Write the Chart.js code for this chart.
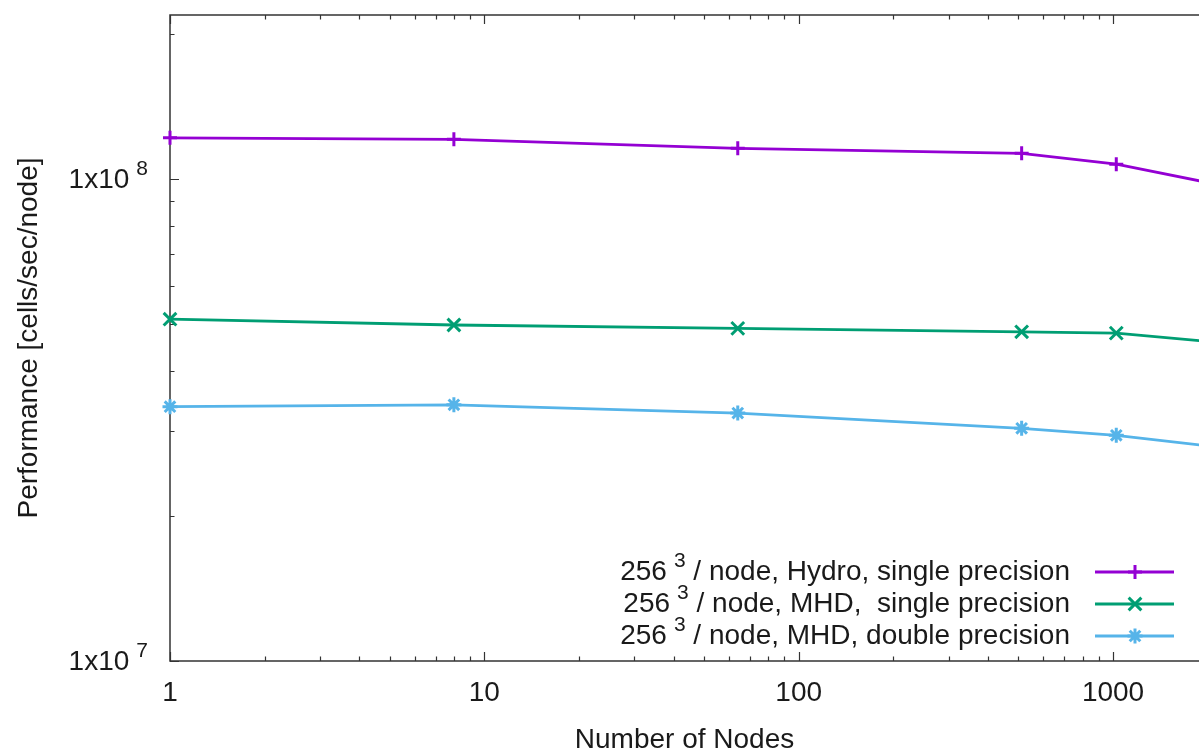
<!DOCTYPE html>
<html>
<head>
<meta charset="utf-8">
<script src="https://cdn.jsdelivr.net/npm/chart.js@4/dist/chart.umd.min.js"></script>
<style>
    html, body { margin: 0; padding: 0; background: #fff; }
    #wrap { width: 1199px; height: 754px; position: relative; }
</style>
</head>
<body>
<div id="wrap"><canvas id="perf-chart"></canvas></div>
<script>
// --- Données ---
const nodes = [1, 8, 64, 512, 1024, 2048];
const hydroSingle = [1.218e8, 1.209e8, 1.158e8, 1.131e8, 1.074e8, 9.81e7];
const mhdSingle = [5.12e7, 4.98e7, 4.90e7, 4.82e7, 4.79e7, 4.60e7];
const mhdDouble = [3.37e7, 3.40e7, 3.27e7, 3.04e7, 2.94e7, 2.79e7];

const seriesNames = [
    '256^{3} / node, Hydro, single precision',
    ' 256^{3} / node, MHD,  single precision',
    '256^{3} / node, MHD, double precision'
];
const seriesColors = ['#9400d3', '#009e73', '#56b4e9'];
const seriesMarkers = ['cross', 'crossRot', 'star'];
const markerSizes = [7, 9, 7.5];

const xTickValues = [1, 10, 100, 1000];
const xTickLabels = ['1', '10', '100', '1000'];
const yTickValues = [1e7, 1e8];
const yTickLabels = ['1x10^{7}', '1x10^{8}'];

const xTitle = 'Number of Nodes';
const yTitle = 'Performance [cells/sec/node]';

const FONT = '"Liberation Sans", Arial, sans-serif';
const FONT_SIZE = 28;
const TEXT_COLOR = '#1a1a1a';
const AXIS_COLOR = '#333';

// --- Texte "enhanced" façon gnuplot (exposant ^{...}) ---
function splitSup(str) {
    const parts = [];
    const re = /\^\{([^}]*)\}/g;
    let last = 0, m;
    while ((m = re.exec(str)) !== null) {
        if (m.index > last) parts.push({ t: str.slice(last, m.index), sup: false });
        parts.push({ t: m[1], sup: true });
        last = re.lastIndex;
    }
    if (last < str.length) parts.push({ t: str.slice(last), sup: false });
    return parts;
}

function measureRich(ctx, str, size) {
    let w = 0;
    splitSup(str).forEach(p => {
        ctx.font = (p.sup ? size * 0.75 : size) + 'px ' + FONT;
        w += ctx.measureText(p.t).width + (p.sup ? 7 : 0);
    });
    return w;
}

function drawRich(ctx, str, xRight, yMid, size) {
    let x = xRight - measureRich(ctx, str, size);
    ctx.textBaseline = 'middle';
    ctx.textAlign = 'left';
    ctx.fillStyle = TEXT_COLOR;
    splitSup(str).forEach(p => {
        if (p.sup) {
            x += 7;
            ctx.font = (size * 0.75) + 'px ' + FONT;
            ctx.fillText(p.t, x, yMid - size * 0.38);
        } else {
            ctx.font = size + 'px ' + FONT;
            ctx.fillText(p.t, x, yMid);
        }
        x += ctx.measureText(p.t).width;
    });
}

// même forme que les pointStyle de Chart.js (cross / crossRot / star)
function drawMarker(ctx, style, x, y, r) {
    ctx.beginPath();
    if (style === 'cross' || style === 'star') {
        ctx.moveTo(x - r, y); ctx.lineTo(x + r, y);
        ctx.moveTo(x, y - r); ctx.lineTo(x, y + r);
    }
    if (style === 'crossRot' || style === 'star') {
        const d = r * Math.SQRT1_2;
        ctx.moveTo(x - d, y - d); ctx.lineTo(x + d, y + d);
        ctx.moveTo(x - d, y + d); ctx.lineTo(x + d, y - d);
    }
    ctx.stroke();
}

// --- Cadre, graduations et légende dessinés à la gnuplot ---
const gnuplotFrame = {
    id: 'gnuplotFrame',
    beforeDatasetsDraw(chart) {
        const { ctx, chartArea } = chart;
        const xs = chart.scales.x, ys = chart.scales.y;
        const L = chartArea.left, R = chartArea.right, T = chartArea.top, B = chartArea.bottom;

        ctx.save();
        ctx.strokeStyle = AXIS_COLOR;
        ctx.lineWidth = 1.5;
        ctx.beginPath();
        ctx.moveTo(R + 2, T); ctx.lineTo(L, T); ctx.lineTo(L, B); ctx.lineTo(R + 2, B);
        ctx.stroke();

        // graduations x (bas et haut, vers l'intérieur)
        ctx.lineWidth = 1.2;
        ctx.beginPath();
        for (let dec = 1; dec <= xs.max; dec *= 10) {
            for (let k = 1; k <= 9; k++) {
                const v = dec * k;
                if (v < xs.min || v > xs.max) continue;
                const px = Math.round(xs.getPixelForValue(v)) + 0.5;
                const len = k === 1 ? 9 : 4.5;
                ctx.moveTo(px, B); ctx.lineTo(px, B - len);
                ctx.moveTo(px, T); ctx.lineTo(px, T + len);
            }
        }
        // graduations y
        for (let dec = 1e7; dec <= ys.max; dec *= 10) {
            for (let k = 1; k <= 9; k++) {
                const v = dec * k;
                if (v < ys.min || v > ys.max) continue;
                const py = Math.round(ys.getPixelForValue(v)) + 0.5;
                const len = k === 1 ? 9 : 4.5;
                ctx.moveTo(L, py); ctx.lineTo(L + len, py);
            }
        }
        ctx.stroke();

        // étiquettes des axes
        ctx.fillStyle = TEXT_COLOR;
        ctx.font = FONT_SIZE + 'px ' + FONT;
        ctx.textAlign = 'center';
        ctx.textBaseline = 'middle';
        xTickValues.forEach((v, i) => {
            ctx.fillText(xTickLabels[i], xs.getPixelForValue(v), B + 32);
        });
        yTickValues.forEach((v, i) => {
            drawRich(ctx, yTickLabels[i], L - 22, ys.getPixelForValue(v) + 1, FONT_SIZE);
        });

        ctx.font = FONT_SIZE + 'px ' + FONT;
        ctx.textAlign = 'center';
        ctx.fillText(xTitle, (L + R) / 2, 740);
        ctx.save();
        ctx.translate(29, (T + B) / 2);
        ctx.rotate(-Math.PI / 2);
        ctx.fillText(yTitle, 0, 0);
        ctx.restore();

        // légende
        const rowsY = [572, 604, 636];
        seriesNames.forEach((name, i) => {
            drawRich(ctx, name, 1070, rowsY[i], FONT_SIZE);
            ctx.strokeStyle = seriesColors[i];
            ctx.lineWidth = 2.8;
            ctx.beginPath();
            ctx.moveTo(1095, rowsY[i]); ctx.lineTo(1174, rowsY[i]);
            ctx.stroke();
            ctx.lineWidth = 3;
            drawMarker(ctx, seriesMarkers[i], 1135, rowsY[i], markerSizes[i]);
        });
        ctx.restore();
    }
};

const toPoints = vals => nodes.map((n, i) => ({ x: n, y: vals[i] }));
const seriesValues = [hydroSingle, mhdSingle, mhdDouble];

new Chart(document.getElementById('perf-chart').getContext('2d'), {
    type: 'line',
    data: {
        datasets: seriesValues.map((vals, i) => ({
            label: seriesNames[i],
            data: toPoints(vals),
            borderColor: seriesColors[i],
            backgroundColor: seriesColors[i],
            borderWidth: 2.8,
            tension: 0,
            clip: { left: 20, top: 20, right: 0, bottom: 20 },
            pointStyle: seriesMarkers[i],
            pointRadius: markerSizes[i],
            pointBorderWidth: 3,
            pointBorderColor: seriesColors[i],
            pointBackgroundColor: seriesColors[i]
        }))
    },
    options: {
        responsive: true,
        maintainAspectRatio: false,
        animation: false,
        layout: { autoPadding: false, padding: { left: 170, right: 0, top: 15, bottom: 93 } },
        plugins: {
            legend: { display: false },
            tooltip: { enabled: false }
        },
        scales: {
            x: { type: 'logarithmic', min: 1, max: 1877, display: false },
            y: { type: 'logarithmic', min: 1e7, max: 2.19e8, display: false }
        }
    },
    plugins: [gnuplotFrame]
});
</script>
</body>
</html>
